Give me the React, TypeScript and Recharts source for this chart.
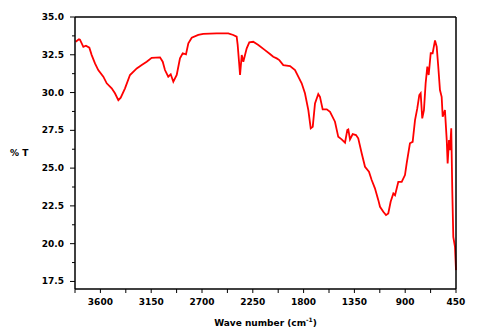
import { Label, Line, LineChart, XAxis, YAxis } from "recharts";

// wavenumber (cm-1) and %T
const wavenumbers = [
  3819, 3790, 3781, 3751, 3728, 3698, 3677, 3648, 3619, 3574, 3544, 3500, 3471, 3441, 3420,
  3382, 3338, 3278, 3234, 3190, 3146, 3072, 3048, 3028, 2999, 2977, 2954, 2924, 2901, 2895,
  2871, 2842, 2821, 2791, 2733, 2689, 2570, 2467, 2423, 2393, 2384, 2372, 2363, 2348, 2334,
  2319, 2304, 2281, 2246, 2201, 2142, 2098, 2069, 2038, 2015, 1980, 1920, 1876, 1847, 1817,
  1788, 1758, 1737, 1719, 1699, 1670, 1655, 1631, 1595, 1566, 1522, 1493, 1463, 1433, 1413,
  1404, 1389, 1365, 1336, 1316, 1285, 1256, 1221, 1197, 1168, 1138, 1123, 1094, 1070, 1050,
  1029, 1005, 990, 961, 931, 902, 887, 858, 834, 813, 793, 775, 763, 749, 734,
  719, 704, 692, 674, 657, 636, 621, 607, 592, 577, 568, 548, 532, 524, 512,
  503, 492, 483, 474, 459, 450,
];
const transmittance = [
  33.36, 33.52, 33.5, 33.03, 33.1, 32.97, 32.48, 31.93, 31.49, 31.05, 30.61, 30.28, 29.95, 29.5, 29.66,
  30.28, 31.16, 31.6, 31.82, 32.04, 32.3, 32.33, 32.04, 31.49, 31.05, 31.21, 30.72, 31.16, 32.04, 32.26,
  32.6, 32.53, 33.26, 33.63, 33.81, 33.89, 33.92, 33.92, 33.81, 33.7, 33.15, 32.04, 31.16, 32.48, 32.04,
  32.48, 32.93, 33.32, 33.36, 33.15, 32.81, 32.55, 32.37, 32.26, 32.15, 31.82, 31.75, 31.49, 31.05, 30.61,
  29.95, 28.84, 27.63, 27.74, 29.28, 29.9, 29.72, 28.89, 28.89, 28.73, 28.07, 27.07, 26.9, 26.68, 27.52,
  27.56, 26.9, 27.25, 27.19, 26.97, 25.97, 25.09, 24.76, 24.21, 23.66, 22.88, 22.44, 22.11, 21.89, 22.0,
  22.77, 23.32, 23.21, 24.09, 24.09, 24.54, 25.31, 26.64, 26.74, 28.18, 28.95, 29.83, 29.95, 28.29, 28.84,
  30.61, 31.71, 31.16, 32.6, 32.6, 33.45, 33.03, 31.71, 30.17, 29.72, 28.4, 28.84, 26.85, 25.31, 26.85,
  26.19, 27.63, 23.54, 20.45, 19.79, 18.25,
];

const xTicks = [3825, 3600, 3375, 3150, 2925, 2700, 2475, 2250, 2025, 1800, 1575, 1350, 1125, 900, 675, 450];
const xLabels = [3600, 3150, 2700, 2250, 1800, 1350, 900, 450];
const yTicks = [17.5, 18.75, 20, 21.25, 22.5, 23.75, 25, 26.25, 27.5, 28.75, 30, 31.25, 32.5, 33.75, 35];
const yLabels = [17.5, 20, 22.5, 25, 27.5, 30, 32.5, 35];

const data = wavenumbers.map((wn, i) => ({ wn, t: transmittance[i] }));

const FONT = "'DejaVu Sans', sans-serif";

function BottomTick(props: any) {
  const { x, y, payload } = props;
  const major = xLabels.includes(payload.value);
  return (
    <g>
      <line x1={x} x2={x} y1={y} y2={y + 4} stroke="#000" strokeWidth={1} />
      {major && (
        <text x={x} y={y + 16} textAnchor="middle" fontFamily={FONT} fontWeight="bold" fontSize={9} fill="#000">
          {payload.value}
        </text>
      )}
    </g>
  );
}

function LeftTick(props: any) {
  const { x, y, payload } = props;
  const major = yLabels.includes(payload.value);
  return (
    <g>
      <line x1={x - (major ? 5 : 3)} x2={x} y1={y} y2={y} stroke="#000" strokeWidth={1} />
      {major && (
        <text x={x - 11} y={y + 3} textAnchor="end" fontFamily={FONT} fontWeight="bold" fontSize={9} fill="#000">
          {payload.value.toFixed(1)}
        </text>
      )}
    </g>
  );
}

function RightTick(props: any) {
  const { x, y } = props;
  return <line x1={x} x2={x + 3} y1={y} y2={y} stroke="#000" strokeWidth={1} />;
}

function XTitle(props: any) {
  const { viewBox } = props;
  const cx = viewBox.x + viewBox.width / 2;
  return (
    <text x={cx} y={viewBox.y + 37} textAnchor="middle" fontFamily={FONT} fontWeight="bold" fontSize={9} fill="#000">
      Wave number (cm
      <tspan dy={-4} fontSize={6}>-1</tspan>
      <tspan dy={4}>)</tspan>
    </text>
  );
}

export default function App() {
  return (
    <div style={{ position: "absolute", left: 0, top: 0, background: "#fff" }}>
      <LineChart width={478} height={333} data={data} margin={{ top: 16, right: 5, left: 5, bottom: 4 }}>
        <XAxis
          dataKey="wn"
          type="number"
          domain={[450, 3825]}
          reversed
          ticks={xTicks}
          interval={0}
          tickSize={0}
          tickMargin={0}
          tickLine={false}
          tick={<BottomTick />}
          height={40}
          axisLine={{ stroke: "#000", strokeWidth: 1.5 }}
        >
          <Label content={<XTitle />} />
        </XAxis>
        <XAxis
          xAxisId="top"
          orientation="top"
          type="number"
          domain={[450, 3825]}
          reversed
          tick={false}
          tickLine={false}
          height={1}
          axisLine={{ stroke: "#000", strokeWidth: 1.5 }}
        />
        <YAxis
          type="number"
          domain={[17, 35]}
          ticks={yTicks}
          interval={0}
          tickSize={0}
          tickMargin={0}
          tickLine={false}
          tick={<LeftTick />}
          width={70}
          axisLine={{ stroke: "#000", strokeWidth: 1.5 }}
          label={{
            value: "% T",
            position: "insideLeft",
            offset: 5,
            angle: 0,
            fontFamily: FONT,
            fontWeight: "bold",
            fontSize: 9,
            fill: "#000",
          }}
        />
        <YAxis
          yAxisId="right"
          orientation="right"
          type="number"
          domain={[17, 35]}
          ticks={yTicks}
          interval={0}
          tickSize={0}
          tickMargin={0}
          tickLine={false}
          tick={<RightTick />}
          width={17}
          axisLine={{ stroke: "#000", strokeWidth: 1.5 }}
        />
        <Line
          dataKey="t"
          type="linear"
          stroke="#ff0000"
          strokeWidth={1.8}
          dot={false}
          isAnimationActive={false}
        />
      </LineChart>
    </div>
  );
}
